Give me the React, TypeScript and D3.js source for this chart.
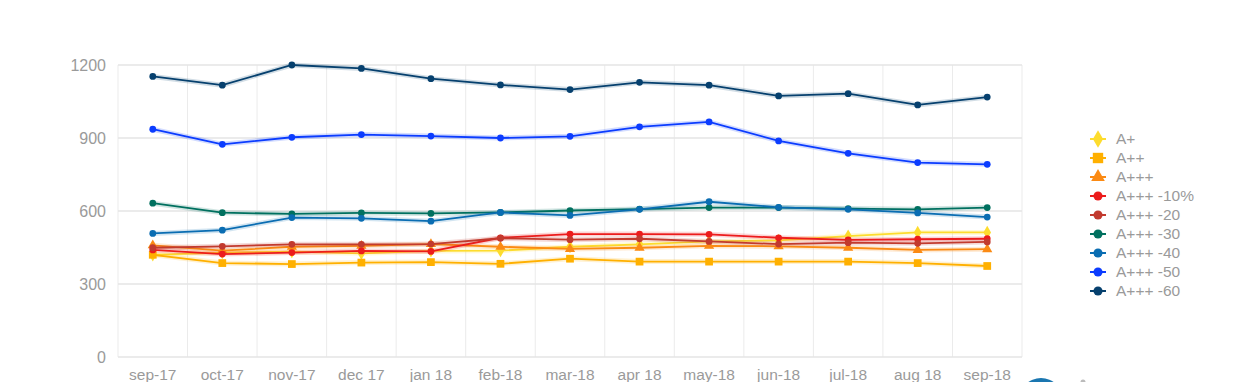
import React from "react";
import * as d3 from "d3";

const months = ["sep-17","oct-17","nov-17","dec 17","jan 18","feb-18","mar-18","apr 18","may-18","jun-18","jul-18","aug 18","sep-18"];
const yTicks = [0, 300, 600, 900, 1200];

const aPlus = [420, 429, 433, 426, 436, 437, 453, 463, 475, 479, 497, 512, 512];
const aPlusPlus = [420, 386, 382, 388, 390, 383, 404, 392, 392, 392, 392, 386, 374];
const aPlusPlusPlus = [459, 437, 453, 457, 464, 453, 444, 449, 457, 455, 449, 440, 443];
const a10 = [440, 423, 429, 436, 434, 490, 505, 505, 504, 490, 481, 484, 486];
const a20 = [449, 455, 463, 463, 464, 488, 482, 486, 475, 464, 470, 467, 473];
const a30 = [632, 593, 588, 592, 590, 594, 602, 608, 614, 614, 610, 607, 614];
const a40 = [508, 521, 573, 570, 558, 594, 582, 607, 638, 615, 607, 592, 575];
const a50 = [936, 874, 903, 914, 908, 900, 907, 946, 966, 888, 837, 799, 792];
const a60 = [1153, 1117, 1200, 1186, 1144, 1118, 1099, 1129, 1117, 1073, 1082, 1036, 1068];

const seriesNames = ["A+", "A++", "A+++", "A+++ -10%", "A+++ -20", "A+++ -30", "A+++ -40", "A+++ -50", "A+++ -60"];
const seriesValues = [aPlus, aPlusPlus, aPlusPlusPlus, a10, a20, a30, a40, a50, a60];
const seriesColors = ["#fddc2e", "#ffb000", "#fb8a13", "#ec1c1c", "#c23a2e", "#00705f", "#0a6db2", "#0b3cff", "#06406e"];
const seriesSymbols = [d3.symbolDiamond, d3.symbolSquare, d3.symbolTriangle, d3.symbolCircle, d3.symbolCircle, d3.symbolCircle, d3.symbolCircle, d3.symbolCircle, d3.symbolCircle];
const seriesSizes = [50, 60, 45, 36, 36, 36, 36, 36, 36];

export default function App() {
  const W = 1257, H = 382;
  const x = d3.scaleBand<string>().domain(months).range([118, 1022]);
  const y = d3.scaleLinear().domain([0, 1200]).range([357, 65]);
  const cx = (m: string) => (x(m) as number) + x.bandwidth() / 2;
  const line = d3.line<number>().x((_, i) => cx(months[i])).y(d => y(d));
  const font = "'Liberation Sans', Arial, Helvetica, sans-serif";
  const bounds = [...months.map(m => x(m) as number), 1022];

  return (
    <svg width={W} height={H} style={{ position: "absolute", left: 0, top: 0, background: "#fff" }} fontFamily={font}>
      {bounds.map((b, i) => (
        <line key={"v" + i} x1={b} x2={b} y1={65} y2={357} stroke="#ebebeb" strokeWidth={1} />
      ))}
      {yTicks.map(t => (
        <g key={"h" + t}>
          <line x1={118} x2={1022} y1={y(t)} y2={y(t)} stroke="#e4e4e4" strokeWidth={1.5} />
          <text x={106} y={y(t)} dy="0.35em" textAnchor="end" fontSize={16} fill="#9a9a9a">{t}</text>
        </g>
      ))}
      {months.map(m => (
        <text key={"x" + m} x={cx(m)} y={380} textAnchor="middle" fontSize={15.5} fill="#9a9a9a">{m}</text>
      ))}
      {seriesValues.map((vals, si) => (
        <g key={"s" + si}>
          <path d={line(vals) || ""} fill="none" stroke={seriesColors[si]} strokeWidth={5} strokeOpacity={0.18} />
          <path d={line(vals) || ""} fill="none" stroke={seriesColors[si]} strokeWidth={1.8} />
          {vals.map((v, i) => (
            <path key={i} transform={`translate(${cx(months[i])},${y(v)})`} d={d3.symbol().type(seriesSymbols[si]).size(seriesSizes[si])() || ""} fill={seriesColors[si]} />
          ))}
        </g>
      ))}
      {seriesNames.map((n, i) => {
        const ly = 139 + i * 19;
        return (
          <g key={"l" + n}>
            <line x1={1090} x2={1106} y1={ly} y2={ly} stroke={seriesColors[i]} strokeWidth={2} />
            <path transform={`translate(1098,${ly})`} d={d3.symbol().type(seriesSymbols[i]).size(seriesSizes[i] * 1.8)() || ""} fill={seriesColors[i]} />
            <text x={1116} y={ly} dy="0.35em" fontSize={15.5} fill="#9a9a9a">{n}</text>
          </g>
        );
      })}
      <circle cx={1041} cy={400} r={22} fill="#1a76b0" />
      <circle cx={1083} cy={382} r={2.5} fill="#bbb" />
    </svg>
  );
}
